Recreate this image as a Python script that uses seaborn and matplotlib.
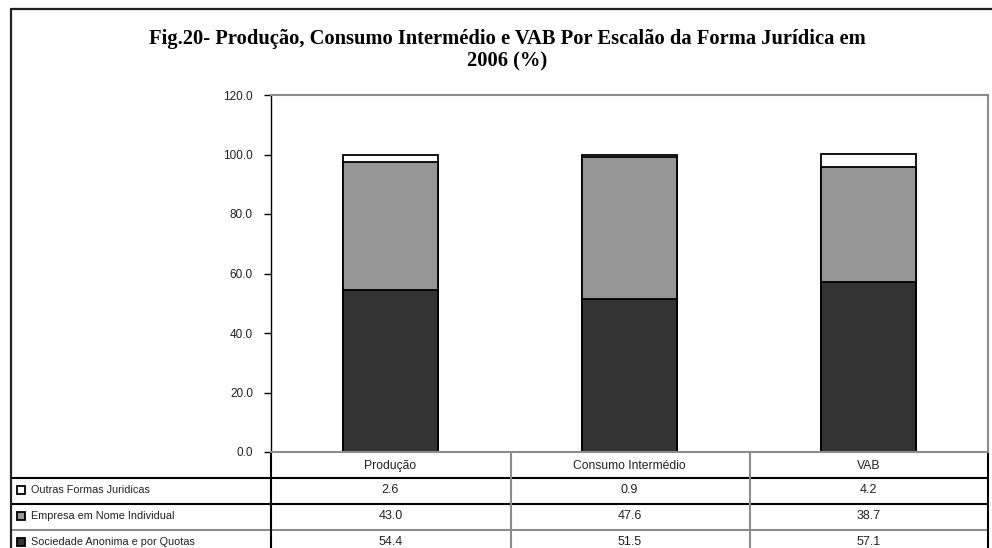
import numpy as np
import matplotlib
matplotlib.use("Agg")
import matplotlib.pyplot as plt
from matplotlib.lines import Line2D
import seaborn as sns

sns.set_theme(style="white")
plt.rcParams["font.family"] = ["Liberation Sans Narrow", "Liberation Sans", "DejaVu Sans"]

# ---------------------- DATA ---------------------- #
categories = ["Produção", "Consumo Intermédio", "VAB"]
series_names = ["Outras Formas Juridicas", "Empresa em Nome Individual",
                "Sociedade Anonima e por Quotas"]
outras = [2.6, 0.9, 4.2]
empresa = [43.0, 47.6, 38.7]
sociedade = [54.4, 51.5, 57.1]
series_colors = ["#ffffff", "#969696", "#333333"]
y_ticks = [0, 20, 40, 60, 80, 100, 120]

title = "Fig.20- Produção, Consumo Intermédio e VAB Por Escalão da Forma Jurídica em\n2006 (%)"

# ---------------------- FIGURE ---------------------- #
W, H = 992, 548
fig = plt.figure(figsize=(W / 100, H / 100), dpi=100)

def fx(px):
    return px / W

def fy(py):
    return 1 - py / H

ax = fig.add_axes([fx(271), fy(452), fx(988) - fx(271), fy(95) - fy(452)])

# stacked bars: draw cumulative totals from top to bottom
layers = [
    np.array(sociedade) + np.array(empresa) + np.array(outras),
    np.array(sociedade) + np.array(empresa),
    np.array(sociedade),
]
for vals, col in zip(layers, series_colors):
    sns.barplot(x=categories, y=vals, color=col, saturation=1, width=0.4,
                edgecolor="black", linewidth=1.3, errorbar=None, ax=ax)

ax.set_ylim(0, 120)
ax.set_xlim(-0.5, 2.5)
ax.set_yticks(y_ticks)
ax.set_yticklabels([f"{t:.1f}" for t in y_ticks], fontsize=8.5, color="#222222")
ax.set_xticks([])
ax.set_xlabel("")
ax.tick_params(axis="y", direction="out", length=5, width=1, color="black", pad=8, left=True)
for side in ["top", "right", "bottom"]:
    ax.spines[side].set_color("#8c8c8c")
    ax.spines[side].set_linewidth(1.5)
ax.spines["left"].set_color("black")
ax.spines["left"].set_linewidth(1)

# ---------------------- DATA TABLE ---------------------- #
col_w = (988 - 271) / len(categories)  # px per category

def dx(px):
    return -0.5 + (px - 271) / col_w

def ay(py):
    return (452 - py) / (452 - 95)

trans = ax.get_xaxis_transform()
row_edges = [452, 478, 504, 530, 556]
line_cols = ["black", "black", "#8c8c8c", "black"]

for yy, lc in zip(row_edges[1:], line_cols):
    ax.plot([dx(11), dx(988)], [ay(yy), ay(yy)], color=lc, lw=1.5,
            transform=trans, clip_on=False)
for xx, lc in zip([271, 511, 750, 988], ["black", "#8c8c8c", "#8c8c8c", "black"]):
    ax.plot([dx(xx), dx(xx)], [0, ay(560)], color=lc, lw=1.5,
            transform=trans, clip_on=False)

# header row
for i, cat in enumerate(categories):
    ax.text(i, ay(466), cat, ha="center", va="center", fontsize=8.7,
            color="#222222", transform=trans, clip_on=False)

# value rows (top to bottom: Outras, Empresa, Sociedade)
table_rows = [outras, empresa, sociedade]
row_marker_colors = ["#ffffff", "#969696", "#333333"]
for r, (name, vals, mc) in enumerate(zip(series_names, table_rows, row_marker_colors)):
    yc = ay((row_edges[r + 1] + row_edges[r + 2]) / 2 - 1)
    ax.plot([dx(20.5)], [yc], marker="s", markersize=5.5, markerfacecolor=mc,
            markeredgecolor="black", markeredgewidth=1.3, transform=trans, clip_on=False)
    ax.text(dx(31), yc, name, ha="left", va="center", fontsize=7.8,
            color="#222222", transform=trans, clip_on=False)
    for i, v in enumerate(vals):
        ax.text(i, yc, f"{v:.1f}", ha="center", va="center", fontsize=9,
                color="#222222", transform=trans, clip_on=False)

# ---------------------- TITLE & FRAME ---------------------- #
fig.text(fx(507), fy(50), title, ha="center", va="center", fontsize=14.8,
         fontweight="bold", family=["Liberation Serif", "DejaVu Serif"],
         linespacing=1.2, color="black")

fig.add_artist(Line2D([fx(11), fx(992)], [fy(9), fy(9)], color="#222222", lw=1.6))
fig.add_artist(Line2D([fx(11), fx(11)], [fy(9), fy(548)], color="#222222", lw=1.6))

fig.savefig("out.png", dpi=100)
